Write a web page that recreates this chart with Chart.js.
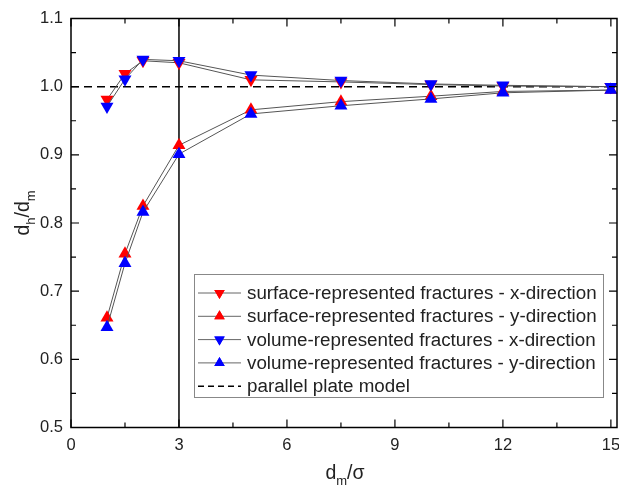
<!DOCTYPE html>
<html>
<head>
<meta charset="utf-8">
<script src="https://cdn.jsdelivr.net/npm/chart.js@4.4.0/dist/chart.umd.min.js"></script>
<style>
  html, body { margin: 0; padding: 0; background: #fff; }
</style>
</head>
<body>
<canvas id="chart" width="619" height="493"></canvas>
<script>
// values
const xVals = [1, 1.5, 2, 3, 5, 7.5, 10, 12, 15];
const surfaceX = [0.981, 1.019, 1.038, 1.035, 1.010, 1.007, 1.003, 1.001, 1.000];
const surfaceY = [0.661, 0.755, 0.825, 0.914, 0.966, 0.978, 0.986, 0.993, 0.995];
const volumeX = [0.971, 1.011, 1.040, 1.038, 1.017, 1.009, 1.004, 1.002, 1.000];
const volumeY = [0.647, 0.741, 0.816, 0.901, 0.960, 0.972, 0.982, 0.991, 0.995];

const cutoffX = [3, 3];
const cutoffY = [0.5, 1.1];
const plateX = [0, 15.17];
const plateY = [1, 1];

const xTicks = [0, 3, 6, 9, 12, 15];
const xMinor = [1.5, 4.5, 7.5, 10.5, 13.5];
const yTicks = [0.5, 0.6, 0.7, 0.8, 0.9, 1.0, 1.1];
const yMinor = [0.55, 0.65, 0.75, 0.85, 0.95, 1.05];

const labels = [
  'surface-represented fractures - x-direction',
  'surface-represented fractures - y-direction',
  'volume-represented fractures - x-direction',
  'volume-represented fractures - y-direction',
  'parallel plate model'
];

const FONT = '"Liberation Sans", Arial, sans-serif';
const pts = (xs, ys) => xs.map((x, i) => ({ x: x, y: ys[i] }));

function series(label, ys, color, rot, order) {
  return {
    label: label,
    data: pts(xVals, ys),
    showLine: true,
    borderColor: '#555',
    borderWidth: 1,
    pointStyle: 'triangle',
    rotation: rot,
    pointRadius: 7.5,
    pointBackgroundColor: color,
    pointBorderColor: color,
    pointBorderWidth: 0,
    order: order
  };
}

// subscript text helper: parts = [[text, isSub], ...]
function drawSub(ctx, parts, x, y, size) {
  const big = size + 'px ' + FONT;
  const small = Math.round(size * 0.68) + 'px ' + FONT;
  let w = 0;
  parts.forEach(p => { ctx.font = p[1] ? small : big; w += ctx.measureText(p[0]).width; });
  let cx = x - w / 2;
  ctx.textAlign = 'left';
  ctx.textBaseline = 'alphabetic';
  parts.forEach(p => {
    ctx.font = p[1] ? small : big;
    ctx.fillText(p[0], cx, p[1] ? y + size * 0.3 : y);
    cx += ctx.measureText(p[0]).width;
  });
}

const decor = {
  id: 'decor',
  afterDraw(chart) {
    const ctx = chart.ctx;
    const a = chart.chartArea;
    const xs = chart.scales.x, ys = chart.scales.y;
    ctx.save();
    ctx.strokeStyle = '#000';
    ctx.lineWidth = 1.5;
    ctx.strokeRect(a.left, a.top, a.right - a.left, a.bottom - a.top);

    // inward ticks on all four sides
    ctx.lineWidth = 1.2;
    ctx.beginPath();
    const tickX = (v, len) => {
      const p = xs.getPixelForValue(v);
      ctx.moveTo(p, a.bottom); ctx.lineTo(p, a.bottom - len);
      ctx.moveTo(p, a.top); ctx.lineTo(p, a.top + len);
    };
    const tickY = (v, len) => {
      const p = ys.getPixelForValue(v);
      ctx.moveTo(a.left, p); ctx.lineTo(a.left + len, p);
      ctx.moveTo(a.right, p); ctx.lineTo(a.right - len, p);
    };
    xTicks.forEach(v => tickX(v, 8));
    xMinor.forEach(v => tickX(v, 5));
    yTicks.forEach(v => tickY(v, 8));
    yMinor.forEach(v => tickY(v, 5));
    ctx.stroke();

    // axis titles
    ctx.fillStyle = '#222';
    drawSub(ctx, [['d', false], ['m', true], ['/σ', false]], 345, 479, 19.5);
    ctx.save();
    ctx.translate(29, 213);
    ctx.rotate(-Math.PI / 2);
    drawSub(ctx, [['d', false], ['h', true], ['/d', false], ['m', true]], 0, 0, 19.5);
    ctx.restore();

    // legend box
    const lx = 194, ly = 274, lw = 409, lh = 123;
    ctx.fillStyle = '#fff';
    ctx.fillRect(lx, ly, lw, lh);
    ctx.strokeStyle = '#888';
    ctx.lineWidth = 1;
    ctx.strokeRect(lx + 0.5, ly + 0.5, lw, lh);
    const sets = chart.data.datasets;
    ctx.font = '18.8px ' + FONT;
    ctx.textBaseline = 'middle';
    ctx.textAlign = 'left';
    labels.forEach((t, i) => {
      const y = 293 + i * 23.3;
      const ds = sets[i];
      ctx.beginPath();
      ctx.strokeStyle = i < 4 ? '#666' : '#000';
      ctx.lineWidth = i < 4 ? 1 : 1.5;
      ctx.setLineDash(i < 4 ? [] : [6, 4]);
      ctx.moveTo(198, y); ctx.lineTo(241, y);
      ctx.stroke();
      ctx.setLineDash([]);
      if (i < 4) {
        ctx.fillStyle = ds.pointBackgroundColor;
        Chart.helpers.drawPoint(ctx, { pointStyle: 'triangle', rotation: ds.rotation, radius: 6, borderWidth: 0 }, 219.5, y);
        ctx.fill();
      }
      ctx.fillStyle = '#222';
      ctx.fillText(t, 247, y + 1);
    });
    ctx.restore();
  }
};

new Chart(document.getElementById('chart'), {
  type: 'scatter',
  data: {
    datasets: [
      series(labels[0], surfaceX, '#ff0000', 180, 2),
      series(labels[1], surfaceY, '#ff0000', 0, 2),
      series(labels[2], volumeX, '#0000ff', 180, 1),
      series(labels[3], volumeY, '#0000ff', 0, 1),
      {
        label: labels[4],
        data: pts(plateX, plateY),
        showLine: true,
        borderColor: '#000',
        borderWidth: 1.5,
        borderDash: [8, 5],
        pointRadius: 0,
        order: 3
      },
      {
        label: 'cutoff',
        data: pts(cutoffX, cutoffY),
        showLine: true,
        borderColor: '#000',
        borderWidth: 1.5,
        pointRadius: 0,
        order: 3
      }
    ]
  },
  options: {
    responsive: false,
    animation: false,
    layout: { autoPadding: false, padding: { top: 18.5, right: 2, left: 0, bottom: 0 } },
    plugins: { legend: { display: false }, tooltip: { enabled: false } },
    scales: {
      x: {
        type: 'linear',
        min: 0,
        max: 15.17,
        afterFit: s => { s.height = 65.5; s.paddingLeft = 0; s.paddingRight = 0; },
        afterBuildTicks: s => { s.ticks = xTicks.map(v => ({ value: v })); },
        grid: { display: false, drawTicks: false },
        border: { display: false },
        ticks: { padding: 8, color: '#222', font: { size: 16.5, family: FONT } }
      },
      y: {
        type: 'linear',
        min: 0.5,
        max: 1.1,
        afterFit: s => { s.width = 71; s.paddingTop = 0; s.paddingBottom = 0; },
        afterBuildTicks: s => { s.ticks = yTicks.map(v => ({ value: v })); },
        grid: { display: false, drawTicks: false },
        border: { display: false },
        ticks: { padding: 8, color: '#222', font: { size: 16.5, family: FONT }, callback: v => v.toFixed(1) }
      }
    }
  },
  plugins: [decor]
});
</script>
</body>
</html>
